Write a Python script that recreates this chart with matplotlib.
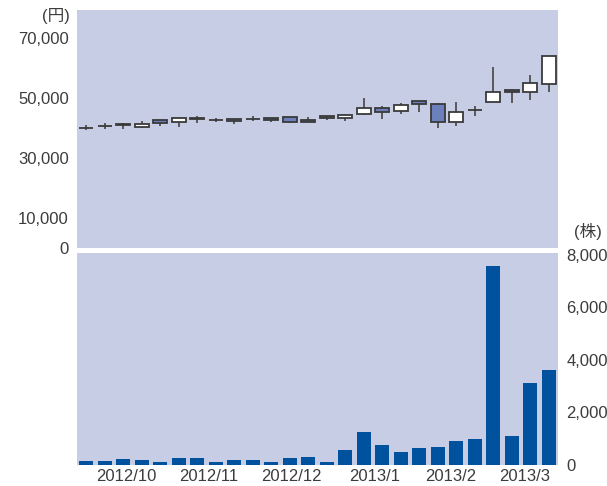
import matplotlib.pyplot as plt
import numpy as np

plt.rcParams['font.family'] = ['Liberation Sans', 'Noto Sans CJK JP', 'DejaVu Sans']

# weekly candles, Oct 2012 - Mar 2013 (yen)
opens = [40100, 40700, 41400, 40200, 42700, 42100, 43400, 42700, 43100, 43100,
         43200, 43600, 42700, 43900, 43400, 44800, 46700, 45500, 48900, 48000,
         42000, 46000, 48800, 52800, 52100, 54600]
closes = [40100, 40700, 40900, 41300, 41600, 43200, 42900, 42700, 42400, 43100,
          42600, 42100, 42000, 43200, 44200, 46600, 45400, 47700, 47900, 42000,
          45300, 46000, 52100, 52100, 54900, 63900]
highs = [41000, 41800, 41600, 42400, 42700, 43800, 43900, 43400, 43100, 43900,
         43200, 43600, 43800, 43900, 44200, 50100, 47300, 48200, 48900, 48400,
         48700, 47300, 60200, 53000, 57700, 63900]
lows = [39200, 39600, 39700, 39900, 40800, 40400, 41600, 41900, 41200, 42300,
        42000, 41600, 42000, 42600, 42300, 44400, 43100, 44600, 45200, 40100,
        40700, 43900, 48800, 48200, 49300, 51900]
# weekly volume (shares)
volume = [152, 152, 229, 190, 114, 267, 267, 114, 190, 190, 114, 267, 305, 114,
          571, 1257, 762, 495, 648, 686, 914, 990, 7580, 1105, 3124, 3620]

month_labels = ['2012/10', '2012/11', '2012/12', '2013/1', '2013/2', '2013/3']
month_pos = [2.15, 6.6, 11.1, 15.6, 19.7, 23.7]

price_ticks = [0, 10000, 30000, 50000, 70000]
vol_ticks = [0, 2000, 4000, 6000, 8000]

bg = '#c8cde6'
edge = '#3a3a3a'
txt = '#3c3c3c'

x = np.arange(len(opens))
o = np.array(opens)
c = np.array(closes)
body_col = np.where(c > o, 'white', '#6b80bd')

fig = plt.figure(figsize=(6.07, 4.86), dpi=100)
ax1 = fig.add_axes([77 / 607, 238 / 486, 481 / 607, 238 / 486])
ax2 = fig.add_axes([77 / 607, 21 / 486, 481 / 607, 212 / 486])

# candlesticks
ax1.vlines(x, lows, highs, color='#444444', lw=1.2, zorder=2)
ax1.bar(x, np.abs(c - o), bottom=np.minimum(o, c), width=0.75,
        color=body_col, edgecolor=edge, linewidth=1.3, zorder=3)
ax1.set_xlim(-0.5, len(x) - 0.5)
ax1.set_ylim(0, 79300)
ax1.set_yticks(price_ticks)
ax1.set_yticklabels([f'{v:,}' for v in price_ticks])
ax1.set_xticks([])
ax1.text(-0.015, 0.975, '(円)', transform=ax1.transAxes, ha='right', va='center',
         fontsize=12, color=txt)

# volume
ax2.bar(x, volume, width=0.75, color='#00519e', zorder=2)
ax2.set_xlim(-0.5, len(x) - 0.5)
ax2.set_ylim(0, 8060)
ax2.yaxis.tick_right()
ax2.set_yticks(vol_ticks)
ax2.set_yticklabels([f'{v:,}' for v in vol_ticks])
ax2.set_xticks(month_pos)
ax2.set_xticklabels(month_labels)
ax2.text(1.062, 1.1, '(株)', transform=ax2.transAxes, ha='center', va='center',
         fontsize=12, color=txt)

for ax in (ax1, ax2):
    ax.set_facecolor(bg)
    for s in ax.spines.values():
        s.set_visible(False)
    ax.tick_params(length=0, labelsize=12, colors=txt, pad=6)
ax2.tick_params(axis='x', pad=3)

fig.savefig('out.png', dpi=100)
